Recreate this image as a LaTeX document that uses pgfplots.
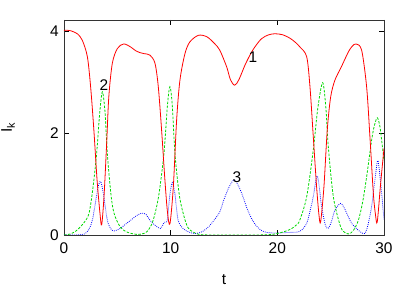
\documentclass[border=0pt]{standalone}
\usepackage{fontspec}
\setmainfont{Liberation Sans}
\usepackage{pgfplots}
\pgfplotsset{compat=1.18}
\definecolor{gred}{rgb}{1,0,0}
\definecolor{ggreen}{rgb}{0,0.85,0}
\definecolor{gblue}{rgb}{0,0,1}
\definecolor{gmag}{rgb}{1,0,1}
\begin{document}
\fontsize{15.5}{18}\selectfont
\begin{tikzpicture}
\path[use as bounding box] (-64bp,-56bp) rectangle (351bp,235bp);
\begin{axis}[
  scale only axis, width=320bp, height=215bp,
  xmin=0, xmax=30, ymin=0, ymax=4.22,
  xtick={0,10,20,30}, ytick={0,2,4},
  /pgf/number format/assume math mode=true,
  tick label style={font=\fontsize{15.5}{18}\selectfont},
  major tick length=5bp,
  tick style={black, line width=0.5pt},
  axis line style={line width=0.6pt, black!80},
  xticklabel style={yshift=-2bp},
  xlabel={t}, ylabel={I\textsubscript{k}},
  label style={font=\fontsize{15.5}{18}\selectfont},
  every axis x label/.style={at={(axis description cs:0.5,0)}, anchor=center, yshift=-45bp},
  every axis y label/.style={at={(axis description cs:-0.175,0.5)}, anchor=center, rotate=90},
  clip=true,
]
\addplot[gmag, line width=0.6pt, dash pattern=on 4pt off 2pt on 1pt off 2pt] coordinates {(0,0.003) (30,0.003)};
\addplot[gblue, line width=0.8pt, dash pattern=on 0.8pt off 1.2pt, smooth] coordinates {
(0,0.0) (1.0,0.0) (1.9,0.02) (2.3,0.1) (2.66,0.29) (3.0,0.7) (3.2,0.95) (3.44,1.05) (3.7,0.8) (4.06,0.29) (4.4,0.12) (4.7,0.08)
(5.2,0.12) (5.7,0.2) (6.25,0.29) (6.8,0.38) (7.3,0.43) (7.7,0.4) (8.06,0.29) (8.6,0.18) (9.06,0.13) (9.4,0.25) (9.68,0.29) (9.9,0.75) (10.15,1.03)
(10.4,0.8) (10.7,0.29) (11.2,0.12) (11.8,0.05) (12.4,0.03) (13.0,0.07) (13.6,0.17) (14.1,0.3) (14.6,0.45) (15.0,0.7) (15.5,0.95) (16.0,1.08)
(16.6,0.85) (17.2,0.5) (17.7,0.28) (18.3,0.12) (19.0,0.05) (20.0,0.04) (21.0,0.05) (22.1,0.07) (22.75,0.23) (23.1,0.5) (23.37,0.75)
(23.75,1.16) (24.15,0.56) (24.5,0.2) (24.78,0.13) (25.1,0.28) (25.4,0.49) (25.93,0.62) (26.3,0.52) (26.65,0.36) (27.0,0.22) (27.4,0.13)
(27.8,0.06) (28.2,0.03) (28.5,0.2) (28.84,0.56) (29.1,1.0) (29.4,1.46) (29.6,1.2) (29.78,0.82) (30,0.3)
};
\addplot[ggreen, line width=0.8pt, dash pattern=on 2.5pt off 1.5pt, smooth] coordinates {
(0,0.0) (0.6,0.02) (1.0,0.06) (1.4,0.13) (1.9,0.25) (2.34,0.42) (2.7,0.9) (3.06,1.6) (3.35,2.4) (3.6,2.81) (3.85,2.4) (4.06,1.6) (4.4,0.8)
(4.7,0.42) (5.3,0.15) (6.0,0.05) (6.9,0.01) (7.3,0.02) (7.75,0.06) (8.2,0.2) (8.53,0.42) (8.9,0.8) (9.37,1.6) (9.7,2.55) (9.93,2.91)
(10.15,2.55) (10.4,1.6) (10.8,0.8) (11.18,0.42) (11.6,0.15) (12.1,0.06) (12.7,0.01) (14,0.0) (16,0.0) (18,0.0) (19.5,0.01) (20.0,0.03)
(20.7,0.07) (21.3,0.12) (21.8,0.2) (22.1,0.29) (22.75,0.75) (23.37,1.67) (23.8,2.5) (24.25,2.99) (24.55,2.5) (24.78,1.73) (25.25,0.75)
(25.87,0.2) (26.2,0.07) (26.65,0.02) (27.1,0.08) (27.6,0.29) (28.0,0.65) (28.37,1.14) (28.84,1.86) (29.1,2.15) (29.37,2.3) (29.6,2.15)
(29.78,1.86) (30,1.45)
};
\addplot[gred, line width=0.8pt, smooth] coordinates {
(0,4.02) (0.6,4.01) (1.25,3.95) (1.72,3.82) (2.19,3.5) (2.5,2.9) (2.8,2.06) (3.1,1.08) (3.375,0.42) (3.53,0.2) (3.75,0.75) (4.0,1.8)
(4.2,2.71) (4.53,3.37) (5.0,3.66) (5.6,3.75) (6.25,3.69) (6.7,3.62) (7.12,3.58) (7.5,3.56) (8.06,3.53) (8.53,3.37) (8.84,2.91) (9.15,2.06)
(9.46,1.08) (9.7,0.45) (9.93,0.22) (10.25,0.95) (10.56,2.26) (10.87,3.04) (11.34,3.56) (11.8,3.79) (12.6,3.92) (13.4,3.89) (14.1,3.76)
(14.6,3.63) (15.25,3.3) (15.6,3.05) (16.0,2.94) (16.4,3.05) (17.0,3.35) (17.7,3.63) (18.5,3.85) (19.2,3.93) (19.8,3.95) (20.5,3.93)
(21.2,3.86) (21.7,3.78) (22.12,3.69) (22.75,3.5) (23.06,2.91) (23.37,1.93) (23.68,0.95) (23.9,0.4) (24.06,0.26) (24.37,0.95) (24.68,2.06)
(25.0,2.71) (25.4,3.04) (26.0,3.3) (26.65,3.59) (27.0,3.7) (27.37,3.75) (27.9,3.63) (28.37,2.91) (28.68,1.93) (29.0,0.82) (29.2,0.4)
(29.37,0.26) (29.68,1.0) (30,1.7)
};
\node[font=\fontsize{15.5}{18}\selectfont] at (axis cs:17.7,3.49) {1};
\node[font=\fontsize{15.5}{18}\selectfont] at (axis cs:3.75,2.94) {2};
\node[font=\fontsize{15.5}{18}\selectfont] at (axis cs:16.2,1.14) {3};
\end{axis}
\end{tikzpicture}
\end{document}
